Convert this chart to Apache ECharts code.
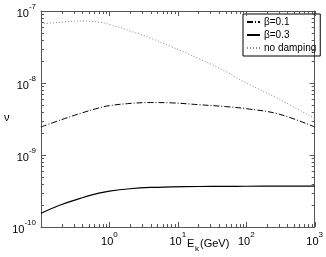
<!DOCTYPE html>
<html>
<head>
<meta charset="utf-8">
<script src="https://cdn.jsdelivr.net/npm/echarts@6/dist/echarts.min.js"></script>
<style>
html,body{margin:0;padding:0;background:#fff;}
#chart{width:326px;height:257px;}
</style>
</head>
<body>
<div id="chart"></div>
<script>
// Kinetic energy E_k (GeV)
var energies = [0.1, 0.2, 0.4, 0.7, 1, 2, 4, 8, 20, 50, 100, 300, 1000];
// beta = 0.1 (dash-dot)
var beta01 = [2.45e-9, 3.1e-9, 3.85e-9, 4.5e-9, 4.85e-9, 5.2e-9, 5.35e-9, 5.3e-9, 5.0e-9, 4.7e-9, 4.4e-9, 3.7e-9, 2.45e-9];
// beta = 0.3 (solid)
var beta03 = [1.55e-10, 2.05e-10, 2.55e-10, 2.95e-10, 3.15e-10, 3.4e-10, 3.55e-10, 3.6e-10, 3.65e-10, 3.67e-10, 3.68e-10, 3.69e-10, 3.7e-10];
// no damping (dotted)
var noDamping = [6.6e-8, 7.0e-8, 7.25e-8, 7.0e-8, 6.5e-8, 5.3e-8, 4.2e-8, 3.2e-8, 2.2e-8, 1.45e-8, 1.0e-8, 6.0e-9, 3.2e-9];
var seriesNames = ['\u03b2=0.1', '\u03b2=0.3', 'no damping'];
var xTicks = [0.1, 1, 10, 100, 1000];
var yTicks = [1e-10, 1e-9, 1e-8, 1e-7];

function pairs(xs, ys){ return xs.map(function(x,i){ return [x, ys[i]]; }); }
var FONT = 'Liberation Sans, Arial, sans-serif';
var AXC = '#555';
var TICKC = '#555';
function expLabel(v){
  var e = Math.round(Math.log(v)/Math.LN10);
  return '{b|10}{s|' + e + '}';
}
var rich = {
  b: {fontSize: 11, fontFamily: FONT, color: '#000', lineHeight: 16, verticalAlign: 'bottom'},
  s: {fontSize: 8, fontFamily: FONT, color: '#000', lineHeight: 16, verticalAlign: 'top'}
};
var tickData = [], tickMeta = [];
function pushTick(kind, v, len, otherMin){
  for (var side = 0; side < 2; side++) {
    tickData.push(kind === 0 ? [v, otherMin] : [otherMin, v]);
    tickMeta.push({kind: kind, len: len, side: side});
  }
}
function addTicks(list, kind, otherMin){
  for (var i = 0; i < list.length; i++) {
    pushTick(kind, list[i], 5, otherMin);
    if (i < list.length - 1) {
      for (var m = 2; m <= 9; m++) pushTick(kind, list[i] * m, 3, otherMin);
    }
  }
}
addTicks(xTicks, 0, yTicks[0]);
addTicks(yTicks, 1, xTicks[0]);

function axisOpt(extra){
  var o = {
    type: 'log', logBase: 10,
    axisLine: {show: true, lineStyle: {color: AXC, width: 1}},
    axisTick: {show: false},
    minorTick: {show: false},
    splitLine: {show: false}
  };
  for (var k in extra) o[k] = extra[k];
  return o;
}
var chart = echarts.init(document.getElementById('chart'), null, {renderer: 'canvas'});
chart.setOption({
  animation: false,
  backgroundColor: '#fff',
  grid: {left: 41, right: 11, top: 11, bottom: 30},
  xAxis: [
    axisOpt({min: xTicks[0], max: xTicks[xTicks.length-1], position: 'bottom',
      axisLabel: {show: true, margin: 4, formatter: function(v){ return v < 0.5 ? '' : expLabel(v); }, rich: rich}}),
    axisOpt({min: xTicks[0], max: xTicks[xTicks.length-1], position: 'top', axisLabel: {show: false}})
  ],
  yAxis: [
    axisOpt({min: yTicks[0], max: yTicks[yTicks.length-1], position: 'left',
      axisLabel: {show: true, margin: 5, formatter: expLabel, rich: rich}}),
    axisOpt({min: yTicks[0], max: yTicks[yTicks.length-1], position: 'right', axisLabel: {show: false}})
  ],
  legend: {
    orient: 'vertical', left: 243, top: 14,
    data: seriesNames,
    borderColor: '#000', borderWidth: 1, borderRadius: 0,
    padding: [3, 4, 3, 3], itemGap: 3, itemWidth: 13, itemHeight: 12,
    itemStyle: {opacity: 0},
    textStyle: {fontSize: 10, fontFamily: FONT, color: '#000', padding: [0,0,0,-1]}
  },
  graphic: [
    {type: 'text', left: 4, top: 112, style: {text: '\u03bd', font: '11px ' + FONT, fill: '#000'}},
    {type: 'text', left: 187, top: 238, style: {text: 'E', font: '11px ' + FONT, fill: '#000'}},
    {type: 'text', left: 195, top: 245, style: {text: 'k', font: '8px ' + FONT, fill: '#000'}},
    {type: 'text', left: 200, top: 238, style: {text: '(GeV)', font: '11px ' + FONT, fill: '#000'}}
  ],
  series: [
    {name: seriesNames[0], type: 'line', smooth: 0.4, symbol: 'none', data: pairs(energies, beta01),
      lineStyle: {color: '#000', width: 1, type: [6, 2, 1, 2]}, itemStyle: {color: '#000'}},
    {name: seriesNames[1], type: 'line', smooth: 0.4, symbol: 'none', data: pairs(energies, beta03),
      lineStyle: {color: '#000', width: 1.2, type: 'solid'}, itemStyle: {color: '#000'}},
    {name: seriesNames[2], type: 'line', smooth: 0.4, symbol: 'none', data: pairs(energies, noDamping),
      lineStyle: {color: '#888', width: 1, type: [1, 2]}, itemStyle: {color: '#888'}},
    {name: 'ticks', type: 'custom', coordinateSystem: 'cartesian2d', clip: false, z: 10,
      data: tickData,
      renderItem: function(params, api){
        var cs = params.coordSys;
        var meta = tickMeta[params.dataIndex];
        var p = api.coord([api.value(0), api.value(1)]);
        var len = meta.len, shape;
        if (meta.kind === 0) {
          var px = Math.round(p[0]) + 0.5;
          shape = meta.side === 0 ? {x1: px, y1: cs.y + cs.height, x2: px, y2: cs.y + cs.height - len}
                                  : {x1: px, y1: cs.y, x2: px, y2: cs.y + len};
        } else {
          var py = Math.round(p[1]) + 0.5;
          shape = meta.side === 0 ? {x1: cs.x, y1: py, x2: cs.x + len, y2: py}
                                  : {x1: cs.x + cs.width, y1: py, x2: cs.x + cs.width - len, y2: py};
        }
        return {type: 'line', shape: shape, style: {stroke: TICKC, lineWidth: 1}};
      }}
  ]
});
</script>
</body>
</html>
